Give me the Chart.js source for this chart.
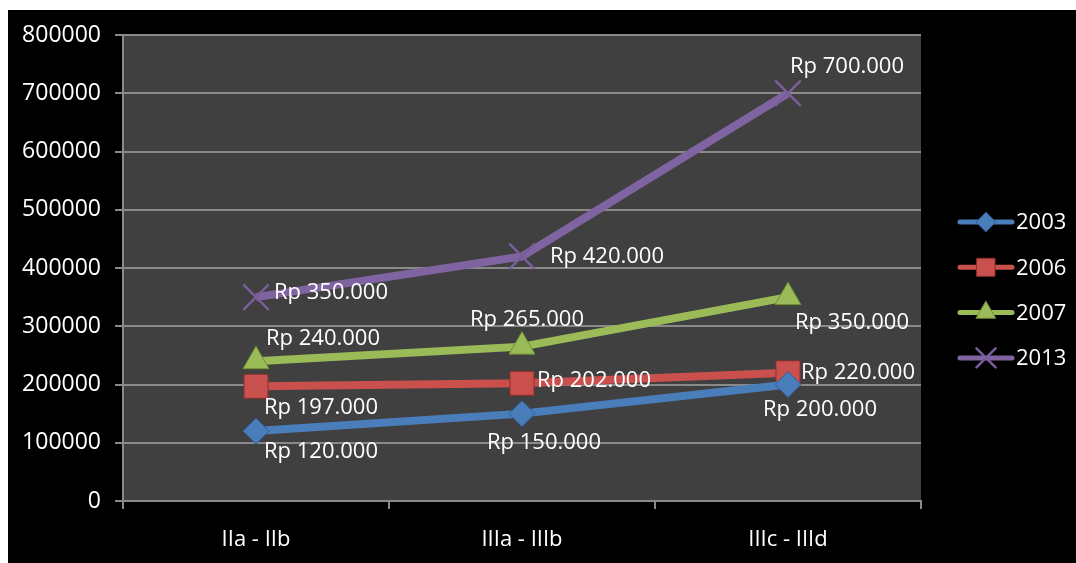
<!DOCTYPE html>
<html>
<head>
<meta charset="utf-8">
<script src="https://cdn.jsdelivr.net/npm/chart.js@4/dist/chart.umd.min.js"></script>
<style>
  html, body { margin: 0; padding: 0; background: #fff; }
  canvas { display: block; }
</style>
</head>
<body>
<canvas id="salaryChart" width="1076" height="563"></canvas>
<script>
const categories = ['IIa - IIb', 'IIIa - IIIb', 'IIIc - IIId'];
const yearLabels = ['2003', '2006', '2007', '2013'];
const values2003 = [120000, 150000, 200000];
const values2006 = [197000, 202000, 220000];
const values2007 = [240000, 265000, 350000];
const values2013 = [350000, 420000, 700000];
const yTicks = [0, 100000, 200000, 300000, 400000, 500000, 600000, 700000, 800000];

// where each value label sits relative to its point (dx, dy of the label's left-middle)
const labelOffsets = {
    '2003': [[8, 21], [-35, 29], [-25, 25]],
    '2006': [[8, 21], [15, -3], [13, 0]],
    '2007': [[10, -22], [-52, -27], [7, 26]],
    '2013': [[18, -4], [28, 0], [2, -27]]
};

const fontFamily = '"Open Sans", "Noto Sans", sans-serif';

function rupiah(v) {
    return 'Rp ' + v.toLocaleString('de-DE');
}

// black backdrop + dark plot area
const backdrop = {
    id: 'backdrop',
    beforeDraw(chart) {
        const { ctx, chartArea } = chart;
        ctx.save();
        ctx.fillStyle = '#ffffff';
        ctx.fillRect(0, 0, chart.width, chart.height);
        ctx.fillStyle = '#000000';
        ctx.fillRect(8, 10, chart.width - 8, chart.height - 10);
        ctx.fillStyle = '#404040';
        ctx.fillRect(chartArea.left, chartArea.top, chartArea.right - chartArea.left, chartArea.bottom - chartArea.top);
        ctx.restore();
    }
};

// "Rp ..." labels next to each point
const valueLabels = {
    id: 'valueLabels',
    afterDatasetsDraw(chart) {
        const { ctx } = chart;
        ctx.save();
        ctx.font = '22px ' + fontFamily;
        ctx.fillStyle = '#ffffff';
        ctx.textBaseline = 'middle';
        ctx.textAlign = 'left';
        chart.data.datasets.forEach((ds, i) => {
            const meta = chart.getDatasetMeta(i);
            meta.data.forEach((pt, j) => {
                const off = labelOffsets[ds.label][j];
                ctx.fillText(rupiah(ds.data[j]), pt.x + off[0], pt.y + off[1]);
            });
        });
        ctx.restore();
    }
};

// Excel-style legend: short line with the marker in the middle
const lineLegend = {
    id: 'lineLegend',
    afterDraw(chart) {
        const { ctx } = chart;
        const x0 = 960, x1 = 1012, startY = 222, gap = 45.3;
        ctx.save();
        chart.data.datasets.forEach((ds, i) => {
            const y = startY + i * gap;
            ctx.strokeStyle = ds.borderColor;
            ctx.lineWidth = 5;
            ctx.lineCap = 'round';
            ctx.beginPath();
            ctx.moveTo(x0, y);
            ctx.lineTo(x1, y);
            ctx.stroke();
            ctx.fillStyle = ds.pointBackgroundColor;
            ctx.strokeStyle = ds.pointBorderColor;
            ctx.lineWidth = ds.pointBorderWidth;
            Chart.helpers.drawPoint(ctx, {
                pointStyle: ds.pointStyle,
                radius: ds.pointRadius * 0.75,
                borderWidth: ds.pointBorderWidth
            }, (x0 + x1) / 2, y);
            ctx.fillStyle = '#ffffff';
            ctx.font = '22px ' + fontFamily;
            ctx.textBaseline = 'middle';
            ctx.fillText(ds.label, 1016, y + 1);
        });
        ctx.restore();
    }
};

function series(label, data, color, marker, dark, radius, bw) {
    return {
        label: label,
        data: data,
        borderColor: color,
        borderWidth: 8,
        pointStyle: marker,
        pointRadius: radius,
        pointHoverRadius: radius,
        pointBackgroundColor: color,
        pointBorderColor: dark,
        pointBorderWidth: bw,
        tension: 0,
        fill: false
    };
}

const ctx = document.getElementById('salaryChart').getContext('2d');
const chart = new Chart(ctx, {
    type: 'line',
    data: {
        labels: categories,
        datasets: [
            series(yearLabels[0], values2003, '#4a7ebb', 'rectRot', '#2c5d98', 13, 1),
            series(yearLabels[1], values2006, '#c9504d', 'rect', '#8c2f2c', 17, 1),
            series(yearLabels[2], values2007, '#9bbb59', 'triangle', '#6f8f34', 15, 1),
            series(yearLabels[3], values2013, '#8064a2', 'crossRot', '#7a5e9c', 18, 2.5)
        ]
    },
    options: {
        responsive: false,
        animation: false,
        events: [],
        layout: { padding: { top: 35, right: 155, left: 0, bottom: 0 } },
        plugins: {
            legend: { display: false },
            tooltip: { enabled: false }
        },
        scales: {
            x: {
                offset: true,
                grid: {
                    offset: true,
                    drawOnChartArea: false,
                    drawTicks: true,
                    tickLength: 8,
                    color: '#8a8a8a',
                    lineWidth: 2
                },
                border: { color: '#8a8a8a', width: 2 },
                ticks: {
                    color: '#ffffff',
                    font: { family: fontFamily, size: 22 },
                    padding: 18,
                    maxRotation: 0
                },
                afterFit(scale) { scale.height = 62; }
            },
            y: {
                min: 0,
                max: 800000,
                afterBuildTicks(scale) {
                    scale.ticks = yTicks.map(v => ({ value: v }));
                },
                grid: {
                    color: '#8a8a8a',
                    lineWidth: 2,
                    tickLength: 8
                },
                border: { color: '#8a8a8a', width: 2 },
                ticks: {
                    color: '#ffffff',
                    font: { family: fontFamily, size: 23 },
                    padding: 14,
                    callback: v => String(v)
                },
                afterFit(scale) { scale.width = 123; }
            }
        }
    },
    plugins: [backdrop, valueLabels, lineLegend]
});
</script>
</body>
</html>
